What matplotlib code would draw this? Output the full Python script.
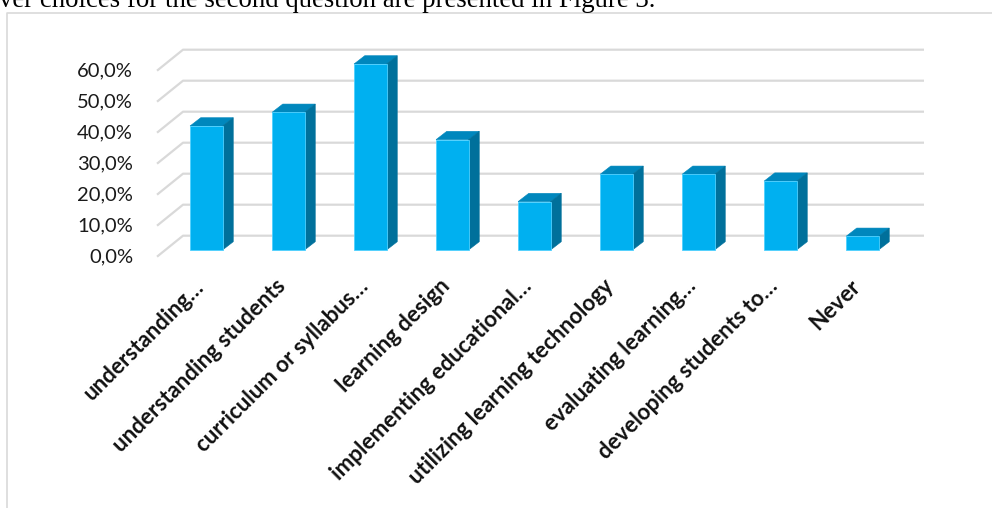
"""Share of respondents per topic, drawn as Excel-style 3D columns."""

import matplotlib
matplotlib.use('Agg')
import matplotlib.pyplot as plt
from matplotlib.patches import Polygon
from matplotlib.lines import Line2D

categories = ['understanding\u2026', 'understanding students',
              'curriculum or syllabus\u2026', 'learning design',
              'implementing educational\u2026', 'utilizing learning technology',
              'evaluating learning\u2026', 'developing students to\u2026', 'Never']
shares = [40.0, 44.4, 60.0, 35.6, 15.6, 24.4, 24.4, 22.2, 4.4]
y_ticks = [0, 10, 20, 30, 40, 50, 60]
y_tick_labels = ['0,0%', '10,0%', '20,0%', '30,0%', '40,0%', '50,0%', '60,0%']
caption = 'ver choices for the second question are presented in Figure 3.'

W, H, DPI = 992, 508, 100
# pixel layout of the plane the column fronts sit in
CAT_PX = 82.0      # px per category
PCT_PX = 3.1       # px per percent
X0_PX = 206.3      # centre of first column
Y0_PX = 250.0      # 0 % line of the column fronts (from top)

FRONT = (-8.5 / CAT_PX, -6.7 / PCT_PX)    # front edge of the floor
BACK = (17.5 / CAT_PX, 14.3 / PCT_PX)     # back wall
DEPTH = (10.7 / CAT_PX, 8.3 / PCT_PX)     # column depth
BAR_W = 32.5 / CAT_PX
LEFT_FRONT = (157 - X0_PX) / CAT_PX
RIGHT_BACK = (924 - X0_PX) / CAT_PX

FACE = '#00b0f0'
TOP = '#0087bd'
SIDE = '#00709b'
GRID = '#d9d9d9'

fig = plt.figure(figsize=(W / DPI, H / DPI), dpi=DPI)
ax = fig.add_axes([0, 0, 1, 1])
ax.set_xlim(-X0_PX / CAT_PX, (W - X0_PX) / CAT_PX)
ax.set_ylim((Y0_PX - H) / PCT_PX, Y0_PX / PCT_PX)
ax.axis('off')

# back wall gridlines and their diagonals on the side wall
for t in y_ticks:
    ax.add_line(Line2D([LEFT_FRONT, LEFT_FRONT + BACK[0] - FRONT[0], RIGHT_BACK],
                       [t + FRONT[1], t + BACK[1], t + BACK[1]],
                       color=GRID, lw=1.6, zorder=1, solid_capstyle='butt'))

for t, lab in zip(y_ticks, y_tick_labels):
    ax.text(LEFT_FRONT - 24 / CAT_PX, t + FRONT[1], lab, ha='right', va='center',
            fontsize=14.5, family='Lato', color='#1a1a1a')

# columns: front face from ax.bar, top and side faces as polygons
xs = list(range(len(shares)))
ax.bar(xs, shares, width=BAR_W, color=FACE, edgecolor='#4fd0ff', lw=0.6, zorder=3)
dx, dy = DEPTH
for x, v in zip(xs, shares):
    l, r = x - BAR_W / 2, x + BAR_W / 2
    ax.add_patch(Polygon([(l, v), (r, v), (r + dx, v + dy), (l + dx, v + dy)],
                         closed=True, fc=TOP, ec=TOP, lw=0.4, zorder=2))
    ax.add_patch(Polygon([(r, 0), (r, v), (r + dx, v + dy), (r + dx, dy)],
                         closed=True, fc=SIDE, ec=SIDE, lw=0.4, zorder=2))

for x, lab in zip(xs, categories):
    ax.text(x - 5.5 / CAT_PX, -33 / PCT_PX, lab, rotation=45, rotation_mode='anchor',
            ha='right', va='center', fontsize=16, family='Lato',
            fontweight='bold', color='#111111')

# chart border and the line of body text above it
fig.add_artist(Line2D([6.5 / W, 6.5 / W, 1.0], [0.0, 1 - 13 / H, 1 - 13 / H],
                      transform=fig.transFigure, color=GRID, lw=1.2))
fig.text(-1 / W, 1 - 7.3 / H, caption, ha='left', va='baseline',
         fontsize=19.3, family='Liberation Serif', color='black')

fig.savefig('out.png', dpi=DPI)
